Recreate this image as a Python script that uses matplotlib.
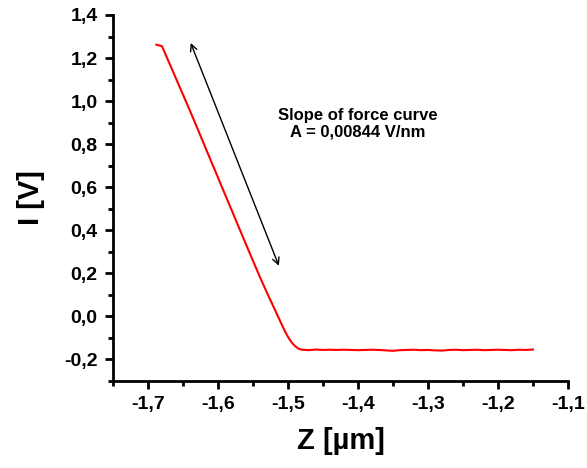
import matplotlib
matplotlib.use('Agg')
import matplotlib.pyplot as plt
from matplotlib.ticker import FuncFormatter, MultipleLocator

# Force curve (Z in µm, I in V)
z_um = [-1.688, -1.680, -1.670, -1.660, -1.650, -1.640, -1.630, -1.620, -1.610,
        -1.600, -1.590, -1.580, -1.570, -1.560, -1.550, -1.540, -1.530, -1.520,
        -1.515, -1.510, -1.505, -1.500, -1.495, -1.490, -1.485, -1.480, -1.470,
        -1.460, -1.450, -1.440, -1.430, -1.420, -1.410, -1.400, -1.390, -1.380,
        -1.370, -1.360, -1.350, -1.340, -1.330, -1.320, -1.310, -1.300, -1.290,
        -1.280, -1.270, -1.260, -1.250, -1.240, -1.230, -1.220, -1.210, -1.200,
        -1.190, -1.180, -1.170, -1.160, -1.150]
i_v = [1.262, 1.255, 1.180, 1.105, 1.030, 0.955, 0.878, 0.800, 0.722,
       0.645, 0.567, 0.490, 0.412, 0.335, 0.258, 0.182, 0.110, 0.040,
       0.005, -0.030, -0.065, -0.095, -0.120, -0.138, -0.150, -0.155, -0.157,
       -0.154, -0.156, -0.155, -0.156, -0.155, -0.156, -0.157, -0.156, -0.155,
       -0.156, -0.158, -0.160, -0.157, -0.156, -0.155, -0.157, -0.156, -0.158,
       -0.159, -0.156, -0.155, -0.157, -0.156, -0.155, -0.157, -0.156, -0.155,
       -0.156, -0.157, -0.155, -0.156, -0.154]

slope_text = 'Slope of force curve\nA = 0,00844 V/nm'
arrow_top = (-1.639, 1.27)
arrow_bottom = (-1.513, 0.235)
text_pos = (-1.40, 0.895)

plt.rcParams['font.family'] = ['Liberation Sans', 'DejaVu Sans']
plt.rcParams['font.weight'] = 'bold'

fig = plt.figure(figsize=(5.87, 4.68), dpi=100)
ax = fig.add_axes([0.1925, 0.186, 0.775, 0.782])

ax.plot(z_um, i_v, color='red', lw=1.5)

ax.annotate('', xy=arrow_top, xytext=arrow_bottom,
            arrowprops=dict(arrowstyle='<->', color='black', lw=1.0,
                            shrinkA=0, shrinkB=0, mutation_scale=12))
ax.text(text_pos[0], text_pos[1], slope_text, ha='center', va='center',
        fontsize=12, fontweight='bold', linespacing=1.15)

ax.set_xlim(-1.75, -1.1)
ax.set_ylim(-0.3, 1.4)
ax.xaxis.set_major_locator(MultipleLocator(0.1))
ax.xaxis.set_minor_locator(MultipleLocator(0.05))
ax.yaxis.set_major_locator(MultipleLocator(0.2))
ax.yaxis.set_minor_locator(MultipleLocator(0.1))

ax.xaxis.set_major_formatter(FuncFormatter(lambda v, p: ('%.1f' % v).replace('.', ',')))
ax.yaxis.set_major_formatter(FuncFormatter(lambda v, p: ('%.1f' % v).replace('.', ',')))

for s in ['top', 'right']:
    ax.spines[s].set_visible(False)
for s in ['left', 'bottom']:
    ax.spines[s].set_linewidth(2)

ax.tick_params(which='major', direction='out', length=6, width=2, labelsize=14, pad=5)
ax.tick_params(which='minor', direction='out', length=3.5, width=2)
for lab in ax.get_xticklabels() + ax.get_yticklabels():
    lab.set_fontweight('bold')

ax.set_xlabel('Z [µm]', fontsize=21, fontweight='bold', labelpad=10)
ax.set_ylabel('I [V]', fontsize=21, fontweight='bold', labelpad=14)

fig.savefig('out.png', dpi=100)
